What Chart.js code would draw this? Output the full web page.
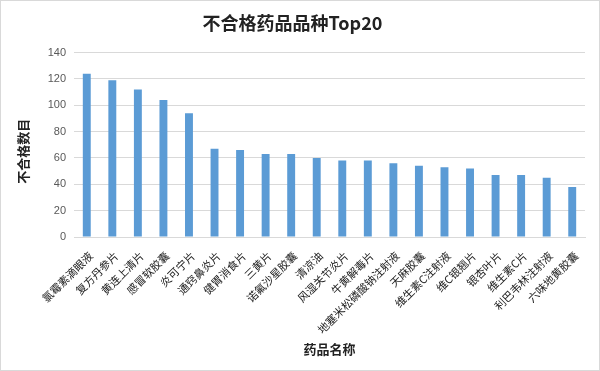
<!DOCTYPE html>
<html>
<head>
<meta charset="utf-8">
<script src="https://cdn.jsdelivr.net/npm/chart.js@4.4.1/dist/chart.umd.min.js"></script>
<style>
    body { margin: 0; background: #fff; }
    #wrap { width: 600px; height: 371px; position: relative; }
    canvas { outline: 1px solid #d9d9d9; outline-offset: -1px; }
</style>
</head>
<body>
<div id="wrap"><canvas id="drugChart" width="600" height="371"></canvas></div>
<script>
const drugNames = ['氯霉素滴眼液', '复方丹参片', '黄连上清片', '感冒软胶囊', '炎可宁片',
    '通窍鼻炎片', '健胃消食片', '三黄片', '诺氟沙星胶囊', '清凉油',
    '风湿关节炎片', '牛黄解毒片', '地塞米松磷酸钠注射液', '天麻胶囊', '维生素C注射液',
    '维C银翘片', '银杏叶片', '维生素C片', '利巴韦林注射液', '六味地黄胶囊'];
const failCounts = [124, 119, 112, 104, 94, 67, 66, 63, 63, 60,
    58, 58, 56, 54, 53, 52, 47, 47, 45, 38];
const yTicks = [0, 20, 40, 60, 80, 100, 120, 140];

const cjk = "'Noto Sans CJK SC', sans-serif";

const renderDrugChart = () => {
    var ctx = document.getElementById('drugChart').getContext('2d');

    var drugChart = new Chart(ctx, {
        type: 'bar',
        data: {
            labels: drugNames,
            datasets: [{
                label: '不合格数目',
                data: failCounts,
                backgroundColor: '#5b9bd5',
                barPercentage: 0.31,
                categoryPercentage: 1,
            }],
        },
        options: {
            responsive: false,
            animation: false,
            layout: { padding: { left: 0, right: 15, top: 0, bottom: 0 } },
            plugins: {
                legend: { display: false },
                tooltip: { enabled: false },
                title: {
                    display: true,
                    text: '不合格药品品种Top20',
                    color: '#222',
                    font: { family: cjk, size: 18, weight: 'bold' },
                    padding: { top: 12, bottom: 19 },
                },
            },
            scales: {
                x: {
                    grid: { display: false },
                    border: { color: '#d9d9d9' },
                    ticks: {
                        color: '#222',
                        font: { family: cjk, size: 11 },
                        minRotation: 45,
                        maxRotation: 45,
                        autoSkip: false,
                        padding: 4,
                        labelOffset: 4,
                    },
                    title: {
                        display: true,
                        text: '药品名称',
                        color: '#222',
                        font: { family: cjk, size: 13, weight: 'bold' },
                        padding: { top: 0, bottom: 14 },
                    },
                    afterFit: (scale) => { scale.height = 134; },
                },
                y: {
                    min: 0,
                    max: 140,
                    afterBuildTicks: (scale) => {
                        scale.ticks = yTicks.map((v) => ({ value: v }));
                    },
                    grid: { color: '#d9d9d9', drawTicks: false },
                    border: { display: false },
                    ticks: {
                        color: '#595959',
                        font: { family: "'Liberation Sans', sans-serif", size: 11 },
                        padding: 8,
                    },
                    title: {
                        display: true,
                        // trailing full-width space nudges the title a little lower
                        text: '不合格数目\u3000',
                        color: '#222',
                        font: { family: cjk, size: 13, weight: 'bold' },
                        padding: { top: 15, bottom: 0 },
                    },
                    afterFit: (scale) => { scale.width = 74; },
                },
            },
        },
    });
};

window.addEventListener('load', renderDrugChart);
</script>
</body>
</html>
